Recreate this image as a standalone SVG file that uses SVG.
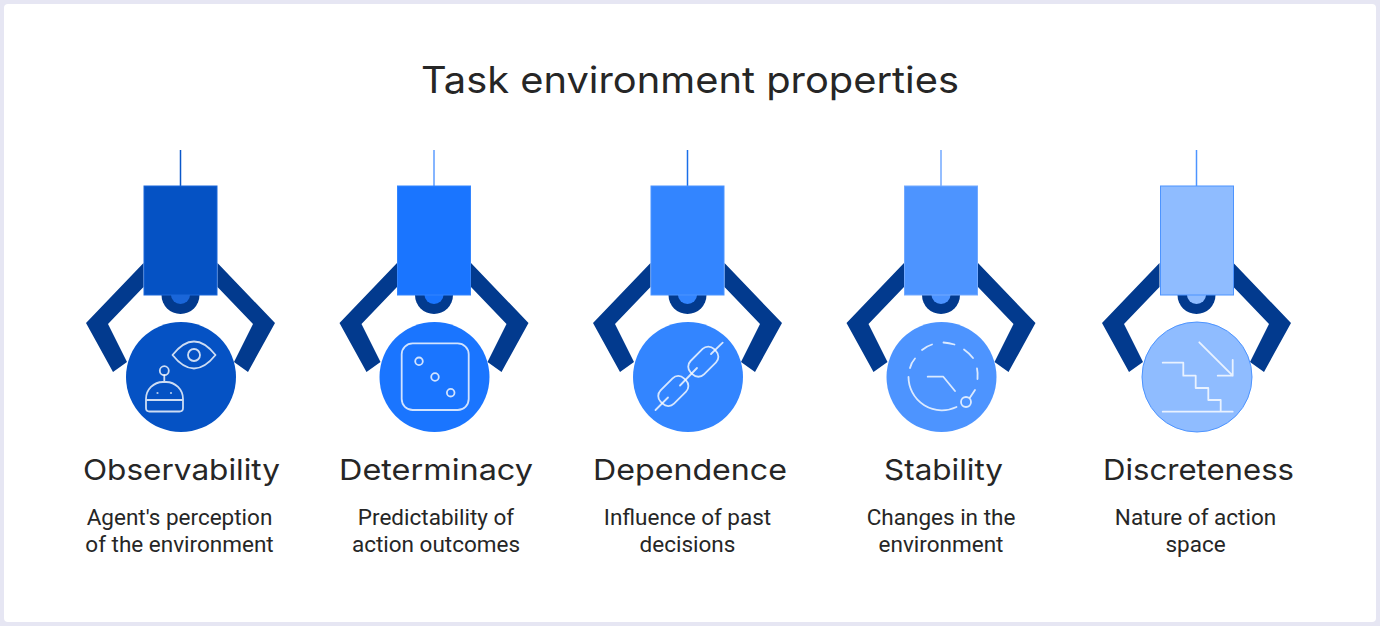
<svg xmlns="http://www.w3.org/2000/svg" width="1380" height="626" viewBox="0 0 1380 626">
<style>
.head{font-family:Inter,"Liberation Sans",sans-serif;font-size:29px;fill:#262626;text-anchor:middle}
.title{font-size:37px}
.desc{font-family:Roboto,"Liberation Sans",sans-serif;font-size:22.500px;fill:#262626;text-anchor:middle}
.ic{fill:none;stroke:#fff;stroke-width:1.800;stroke-opacity:.8;stroke-linecap:round;stroke-linejoin:round}
.arm{fill:#023a8e}
</style>
<defs>
<g id="claw">
<polygon class="arm" points="-37,-114 -94.500,-54 -67.500,-5 -53.500,-15 -72.500,-53 -37,-90"/>
<polygon class="arm" points="37,-114 94.500,-54 67.500,-5 53.500,-15 72.500,-53 37,-90"/>
<path class="arm" d="M-19,-82A19,19 0 0 0 19,-82Z"/>
</g>
</defs>
<rect width="1380" height="626" fill="#e6e6f3"/>
<rect x="4" y="4" width="1372" height="618" rx="4" fill="#fff"/>
<text class="head title" x="690" y="93" textLength="538" lengthAdjust="spacingAndGlyphs">Task environment properties</text>
<g id="connectors">
<line x1="180.500" y1="150" x2="180.500" y2="186" stroke="#0a57c9" stroke-width="1.500"/>
<line x1="434" y1="150" x2="434" y2="186" stroke="#5c9dff" stroke-width="1.500"/>
<line x1="687.500" y1="150" x2="687.500" y2="186" stroke="#1a6fe8" stroke-width="1.500"/>
<line x1="941" y1="150" x2="941" y2="186" stroke="#72a9ff" stroke-width="1.500"/>
<line x1="1196.500" y1="150" x2="1196.500" y2="186" stroke="#4d94ff" stroke-width="1.500"/>
</g>
<g id="node-observability">
<use href="#claw" x="180.500" y="377"/>
<path d="M171,295A9.500,9 0 0 0 190,295Z" fill="#1a66d9"/>
<rect x="144" y="186" width="73" height="109" fill="#0552c4" stroke="#1a66d9"/>
<circle cx="181" cy="377" r="55" fill="#0552c4"/>
<path class="ic" d="M172.500,355Q194,328 215.500,355Q194,382 172.500,355Z"/>
<circle class="ic" cx="194" cy="355" r="6"/>
<circle class="ic" cx="164.300" cy="370.700" r="4.500"/>
<path class="ic" d="M164.300,375.200V382M146,400V399A17,17 0 0 1 163,382H166A17,17 0 0 1 183,399V408Q183,411.500 179.500,411.500H149.500Q146,411.500 146,408V400H183"/>
<circle cx="157.500" cy="393" r="1.100" fill="#fff" fill-opacity=".7"/>
<circle cx="171" cy="393" r="1.100" fill="#fff" fill-opacity=".7"/>
<text class="head" x="181.500" y="480" textLength="197" lengthAdjust="spacingAndGlyphs">Observability</text>
<text class="desc" x="179.500" y="524.500">Agent's perception</text>
<text class="desc" x="179.500" y="551.500">of the environment</text>
</g>
<g id="node-determinacy">
<use href="#claw" x="434" y="377"/>
<path d="M424.500,295A9.500,9 0 0 0 443.500,295Z" fill="#1a75ff"/>
<rect x="397.500" y="186" width="73" height="109" fill="#1a75ff" stroke="#3385ff"/>
<circle cx="434.500" cy="377" r="55" fill="#1a75ff"/>
<rect class="ic" x="401.700" y="343.300" width="67" height="66.700" rx="11"/>
<circle class="ic" cx="419" cy="361.300" r="3.800"/>
<circle class="ic" cx="435" cy="377" r="3.800"/>
<circle class="ic" cx="450.700" cy="392.700" r="3.800"/>
<text class="head" x="436" y="480" textLength="194" lengthAdjust="spacingAndGlyphs">Determinacy</text>
<text class="desc" x="436" y="524.500">Predictability of</text>
<text class="desc" x="436" y="551.500">action outcomes</text>
</g>
<g id="node-dependence">
<use href="#claw" x="687.500" y="377"/>
<path d="M678,295A9.500,9 0 0 0 697,295Z" fill="#3385ff"/>
<rect x="651" y="186" width="73" height="109" fill="#3385ff" stroke="#4d94ff"/>
<circle cx="688" cy="377" r="55" fill="#3385ff"/>
<rect class="ic" x="-16.500" y="-9.500" width="33" height="19" rx="8" transform="translate(703.300 361.700) rotate(-45)"/>
<rect class="ic" x="-16.500" y="-9.500" width="33" height="19" rx="8" transform="translate(673.300 391) rotate(-45)"/>
<path class="ic" d="M655.500,410L668,397.500M680,385.500L697,368M711,354L722.700,342.700"/>
<text class="head" x="690" y="480" textLength="194" lengthAdjust="spacingAndGlyphs">Dependence</text>
<text class="desc" x="687.500" y="524.500">Influence of past</text>
<text class="desc" x="687.500" y="551.500">decisions</text>
</g>
<g id="node-stability">
<use href="#claw" x="941" y="377"/>
<path d="M931.500,295A9.500,9 0 0 0 950.500,295Z" fill="#4d94ff"/>
<rect x="904.500" y="186" width="73" height="109" fill="#4d94ff" stroke="#72a9ff"/>
<circle cx="941.500" cy="377" r="55" fill="#4d94ff"/>
<path class="ic" d="M908.500,377A33.500,33.500 0 0 0 956.500,407M943.500,342.500Q949,343 954.500,344.500M922,350Q927,346 932,344.500M910,368Q911,363 915,358.500M964,349.500Q969,353 973,358M977,368.500Q978,373 977.500,379M970,397.500L975,390"/>
<circle class="ic" cx="966" cy="402" r="5"/>
<path class="ic" d="M927.700,376.700H943.300L955,391"/>
<text class="head" x="943.500" y="480" textLength="119" lengthAdjust="spacingAndGlyphs">Stability</text>
<text class="desc" x="941" y="524.500">Changes in the</text>
<text class="desc" x="941" y="551.500">environment</text>
</g>
<g id="node-discreteness">
<use href="#claw" x="1196.500" y="377"/>
<path d="M1187,295A9.500,9 0 0 0 1206,295Z" fill="#8fbcff"/>
<rect x="1160.500" y="186" width="73" height="109" fill="#8fbcff" stroke="#4d94ff"/>
<circle cx="1197" cy="377" r="55" fill="#8fbcff" stroke="#4d94ff"/>
<path class="ic" d="M1162.700,411.700H1232.700M1162.700,362.700H1183.300V375.700H1195.700V388H1208.300V400H1220.700V411.700M1199.300,342.300L1232.700,375.700M1232.700,360V375.700H1217.700"/>
<text class="head" x="1198.500" y="480" textLength="191" lengthAdjust="spacingAndGlyphs">Discreteness</text>
<text class="desc" x="1195.500" y="524.500">Nature of action</text>
<text class="desc" x="1195.500" y="551.500">space</text>
</g>
</svg>
